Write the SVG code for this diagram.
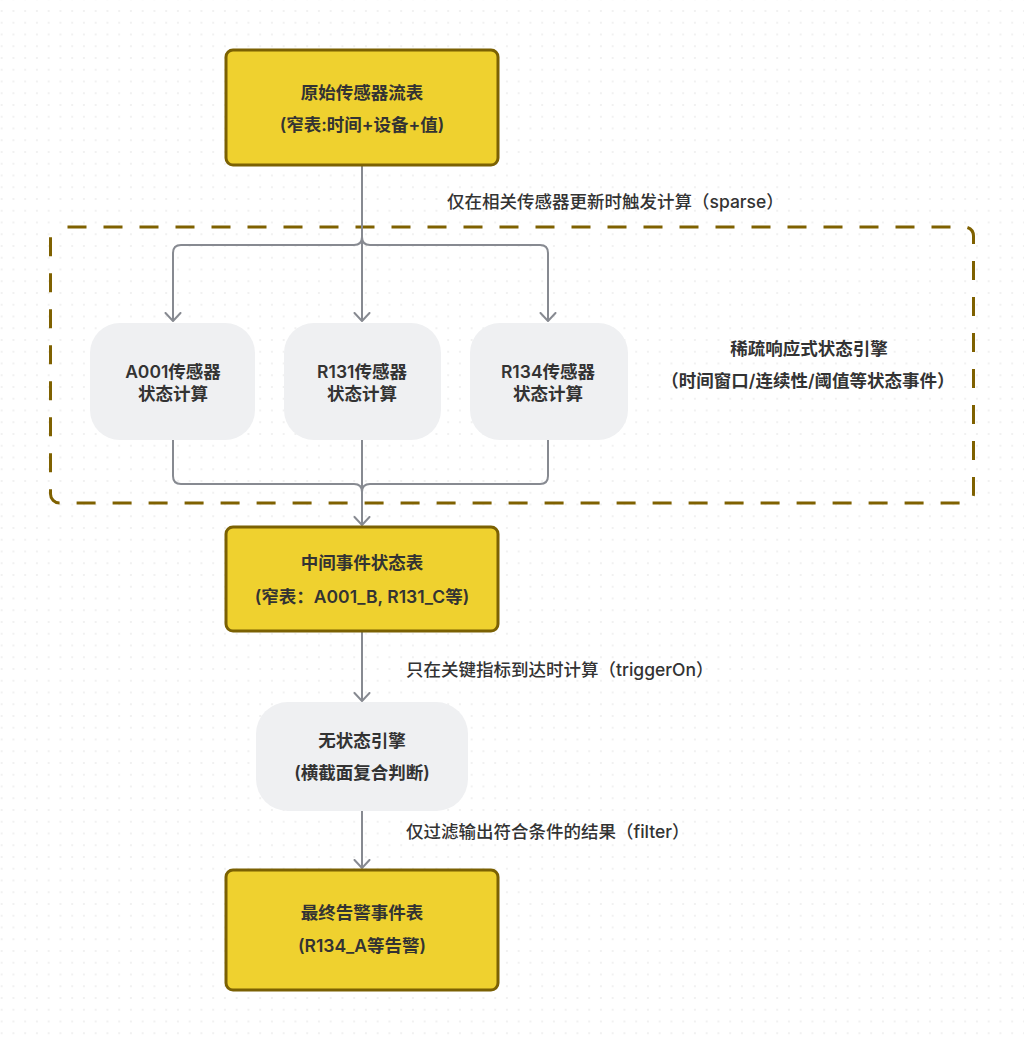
<svg xmlns="http://www.w3.org/2000/svg" width="1024" height="1040" viewBox="0 0 1024 1040">
<defs>
<pattern id="dots" width="11.75" height="11.75" patternUnits="userSpaceOnUse" x="0.7" y="10">
<circle cx="1" cy="1" r="0.8" fill="#dedede"/>
</pattern>
<marker id="arr" markerWidth="16" markerHeight="18" viewBox="0 0 16 18" refX="9" refY="9" orient="auto" markerUnits="userSpaceOnUse">
<path d="M1,1.5 L9,9 L1,16.5" fill="none" stroke="#878a91" stroke-width="2" stroke-linecap="round" stroke-linejoin="round"/>
</marker>
<style>
.tbl{fill:#efd12f;stroke:#7b6103;stroke-width:3}
.proc{fill:#eff0f2}
.t{font-family:Inter,"Noto Sans CJK SC",sans-serif;font-size:17.5px;font-weight:600;fill:#333;text-anchor:middle}
.lbl{font-family:Inter,"Noto Sans CJK SC",sans-serif;font-size:17.5px;font-weight:500;fill:#333}
.e{fill:none;stroke:#878a91;stroke-width:2}
</style>
</defs>
<rect width="1024" height="1040" fill="#ffffff"/>
<rect width="1024" height="1040" fill="url(#dots)"/>

<g id="group-sparse-engine">
<rect x="50.5" y="227" width="923" height="276" rx="9" fill="none" stroke="#7f6100" stroke-width="3" stroke-dasharray="19 17" stroke-dashoffset="-8"/>
<text class="t" x="809" y="355">稀疏响应式状态引擎</text>
<text class="t" x="808" y="387">（时间窗口/连续性/阈值等状态事件）</text>
</g>

<g id="connectors">
<path class="e" d="M362,166 L362,321" marker-end="url(#arr)"/>
<path class="e" d="M362,229 L362,237 Q362,245 354,245 L181,245 Q173,245 173,253 L173,321" marker-end="url(#arr)"/>
<path class="e" d="M362,229 L362,237 Q362,245 370,245 L540,245 Q548,245 548,253 L548,321" marker-end="url(#arr)"/>
<path class="e" d="M362,440 L362,525" marker-end="url(#arr)"/>
<path class="e" d="M173,440 L173,476 Q173,484 181,484 L354,484 Q362,484 362,492 L362,500"/>
<path class="e" d="M548,440 L548,476 Q548,484 540,484 L370,484 Q362,484 362,492 L362,500"/>
<path class="e" d="M362,632 L362,701" marker-end="url(#arr)"/>
<path class="e" d="M362,811 L362,868" marker-end="url(#arr)"/>
<text class="lbl" x="447" y="208">仅在相关传感器更新时触发计算（sparse）</text>
<text class="lbl" x="406" y="676">只在关键指标到达时计算（triggerOn）</text>
<text class="lbl" x="406" y="838">仅过滤输出符合条件的结果（filter）</text>
</g>

<g id="node-raw">
<rect class="tbl" x="226" y="50" width="272" height="115" rx="7"/>
<text class="t" x="362" y="99">原始传感器流表</text>
<text class="t" x="362" y="131">(窄表:时间+设备+值)</text>
</g>

<g id="node-a001">
<rect class="proc" x="90" y="323" width="165" height="117" rx="30"/>
<text class="t" x="173" y="378">A001传感器</text>
<text class="t" x="173" y="400">状态计算</text>
</g>

<g id="node-r131">
<rect class="proc" x="284" y="323" width="157" height="117" rx="30"/>
<text class="t" x="362" y="378">R131传感器</text>
<text class="t" x="362" y="400">状态计算</text>
</g>

<g id="node-r134">
<rect class="proc" x="470" y="323" width="158" height="117" rx="30"/>
<text class="t" x="548" y="378">R134传感器</text>
<text class="t" x="548" y="400">状态计算</text>
</g>

<g id="node-mid">
<rect class="tbl" x="226" y="527" width="272" height="104" rx="7"/>
<text class="t" x="362" y="569">中间事件状态表</text>
<text class="t" x="362" y="603">(窄表：A001_B, R131_C等)</text>
</g>

<g id="node-stateless">
<rect class="proc" x="256" y="702" width="212" height="109" rx="32"/>
<text class="t" x="362" y="747">无状态引擎</text>
<text class="t" x="362" y="779">(横截面复合判断)</text>
</g>

<g id="node-final">
<rect class="tbl" x="226" y="870" width="272" height="120" rx="7"/>
<text class="t" x="362" y="919">最终告警事件表</text>
<text class="t" x="362" y="952">(R134_A等告警)</text>
</g>
</svg>
